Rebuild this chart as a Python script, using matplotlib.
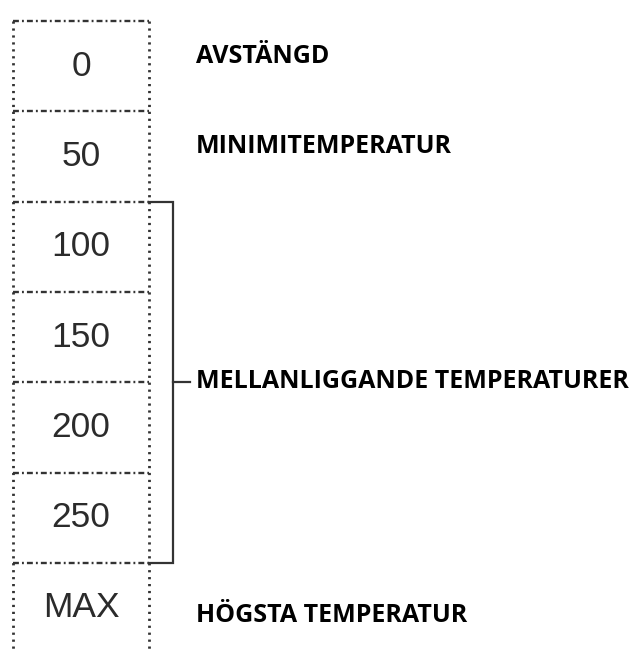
import matplotlib
matplotlib.use("Agg")
import matplotlib.pyplot as plt

# steps shown on the dial, top to bottom
steps = ["0", "50", "100", "150", "200", "250", "MAX"]

# descriptions and the rows (first, last) they cover
desc_labels = ["AVSTÄNGD", "MINIMITEMPERATUR", "MELLANLIGGANDE TEMPERATURER", "HÖGSTA TEMPERATUR"]
desc_first = [0, 1, 2, 6]
desc_last = [0, 1, 5, 6]

# layout (x in pixels, y in rows of the column)
cell_px = 90.3
top_px = 21
W, H = 636, 652
col_left, col_right = 13, 149
brace_x, tick_end, text_x = 173, 190, 196
text_nudge = [-0.11, -0.11, -0.01, 0.08]
grey = "#333333"

fig = plt.figure(figsize=(W / 100, H / 100), dpi=100)
ax = fig.add_axes([0, 0, 1, 1])
ax.set_xlim(0, W)
ax.set_ylim((H - top_px) / cell_px, -top_px / cell_px)
ax.axis("off")

n = len(steps)
bottom = (H - top_px) / cell_px

# column outline, dotted
for x in (col_left, col_right):
    ax.plot([x, x], [0, bottom], color=grey, lw=2.0, ls=(0, (0.8, 1.7)))
for i in range(n):
    ax.plot([col_left, col_right], [i, i], color=grey, lw=1.7, ls=(0, (2.5, 1.3, 0.8, 1.3)))

# step values
for i, s in enumerate(steps):
    ax.text((col_left + col_right) / 2, i + 0.5, s, ha="center", va="center",
            fontsize=25.5, color="#2b2b2b", family="Liberation Sans")

# descriptions, with bracket for grouped rows
for lab, a, b, dy in zip(desc_labels, desc_first, desc_last, text_nudge):
    mid = (a + b + 1) / 2
    if b > a:
        ax.plot([col_right, brace_x, brace_x, col_right], [a, a, b + 1, b + 1],
                color=grey, lw=1.6, solid_joinstyle="miter")
        ax.plot([brace_x, tick_end], [mid, mid], color=grey, lw=1.6)
    ax.text(text_x, mid + dy, lab, ha="left", va="center", fontsize=18,
            fontweight="bold", color="black", family="Open Sans")

fig.savefig("out.png", dpi=100, facecolor="white")
